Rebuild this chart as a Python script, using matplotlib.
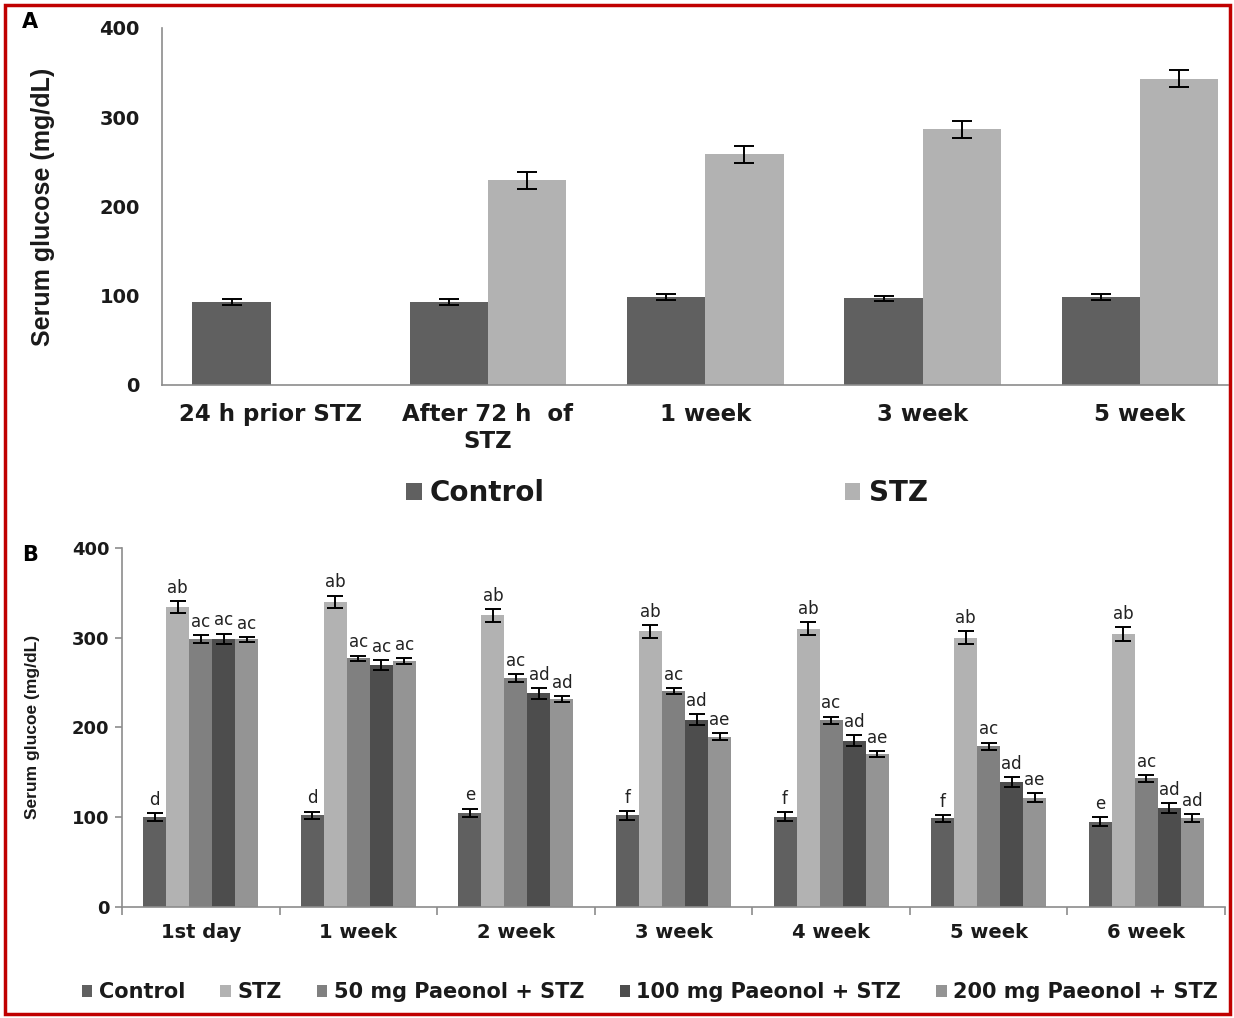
import numpy as np
import matplotlib
matplotlib.use("Agg")
import matplotlib.pyplot as plt
from matplotlib.patches import Rectangle

plt.rcParams['font.family'] = ['DejaVu Sans']

# ---------------- Panel A data ----------------
catsA = ["24 h prior STZ", "After 72 h  of\nSTZ", "1 week", "3 week", "5 week"]
ctrlA = [93, 93, 98.5, 97, 98.5]
ctrlA_err = [3, 3, 3, 2.5, 3]
stzA = [np.nan, 229.5, 258.5, 286.5, 343]
stzA_err = [np.nan, 9.5, 9.5, 9.5, 9.5]
seriesA = ["Control", "STZ"]

# ---------------- Panel B data ----------------
catsB = ["1st day", "1 week", "2 week", "3 week", "4 week", "5 week", "6 week"]
seriesB = ["Control", "STZ", "50 mg Paeonol + STZ", "100 mg Paeonol + STZ", "200 mg Paeonol + STZ"]
ctrlB = [100, 102, 105, 102, 100.5, 98.5, 95]
ctrlB_err = [4, 4, 4.5, 5, 5, 4, 4.5]
stzB = [334, 340, 325, 307, 310, 300, 304]
stzB_err = [7, 7, 7, 7, 7, 7, 8]
p50B = [298.5, 277, 255, 240.5, 208, 179, 143]
p50B_err = [4, 3, 4, 3.5, 4, 4, 4]
p100B = [299, 269.5, 238, 208.5, 185, 139, 110]
p100B_err = [5.5, 5.5, 6, 6, 6, 6, 6]
p200B = [298, 274, 231.5, 189.5, 170, 121.5, 98.5]
p200B_err = [3, 3.5, 3.5, 4, 3.5, 5, 4.5]
lettersCtrl = ["d", "d", "e", "f", "f", "f", "e"]
lettersStz = ["ab", "ab", "ab", "ab", "ab", "ab", "ab"]
letters50 = ["ac", "ac", "ac", "ac", "ac", "ac", "ac"]
letters100 = ["ac", "ac", "ad", "ad", "ad", "ad", "ad"]
letters200 = ["ac", "ac", "ad", "ae", "ae", "ae", "ad"]

colA = ["#606060", "#b2b2b2"]
colB = ["#606060", "#b2b2b2", "#808080", "#4d4d4d", "#949494"]
spine_col = "#8c8c8c"
txt_col = "#1a1a1a"

fig = plt.figure(figsize=(12.34, 10.18), dpi=100)
W, H = 1234, 1018

def ax_rect(l, t, r, b):
    return [l / W, 1 - b / H, (r - l) / W, (b - t) / H]

# ---------------- Panel A ----------------
axA = fig.add_axes(ax_rect(162, 28, 1228, 385))
xA = np.arange(len(catsA))
bwA = 0.36
bA1 = axA.bar(xA - bwA / 2, ctrlA, bwA, color=colA[0], label=seriesA[0], zorder=2)
bA2 = axA.bar(xA + bwA / 2, stzA, bwA, color=colA[1], label=seriesA[1], zorder=2)
axA.errorbar(xA - bwA / 2, ctrlA, yerr=ctrlA_err, fmt='none', ecolor='black',
             elinewidth=1.4, capsize=7, capthick=1.4, zorder=3)
axA.errorbar(xA + bwA / 2, stzA, yerr=stzA_err, fmt='none', ecolor='black',
             elinewidth=1.4, capsize=7, capthick=1.4, zorder=3)
axA.set_xlim(-0.5, 4.405)
axA.set_ylim(0, 400)
axA.set_yticks([0, 100, 200, 300, 400])
axA.tick_params(axis='y', length=0, pad=16, labelsize=14, labelcolor=txt_col)
axA.tick_params(axis='x', length=0, pad=13, labelsize=16.5, labelcolor=txt_col)
axA.set_xticks(xA)
axA.set_xticklabels(catsA, linespacing=1.2)
for lab in axA.get_xticklabels() + axA.get_yticklabels():
    lab.set_fontweight('bold')
for s in ['top', 'right']:
    axA.spines[s].set_visible(False)
for s in ['left', 'bottom']:
    axA.spines[s].set_color(spine_col)
    axA.spines[s].set_linewidth(1.2)
axA.set_ylabel("Serum glucose (mg/dL)", fontsize=18, fontweight='bold',
               family=['Liberation Sans', 'DejaVu Sans'], color=txt_col)
axA.yaxis.set_label_coords(-0.100, 0.5)

legA = fig.legend(handles=[bA1, bA2], labels=seriesA, loc='center',
                  bbox_to_anchor=(667 / W, 1 - 493 / H), ncol=2, frameon=False,
                  prop={'size': 20, 'weight': 'bold'}, handlelength=0.55,
                  handleheight=0.55, handletextpad=0.3, columnspacing=10.8)
for t in legA.get_texts():
    t.set_color(txt_col)

# ---------------- Panel B ----------------
axB = fig.add_axes(ax_rect(122, 548, 1225, 906.7))
xB = np.arange(len(catsB))
bwB = 0.146
valsB = [ctrlB, stzB, p50B, p100B, p200B]
errsB = [ctrlB_err, stzB_err, p50B_err, p100B_err, p200B_err]
letsB = [lettersCtrl, lettersStz, letters50, letters100, letters200]
handlesB = []
for i in range(5):
    xs = xB + (i - 2) * bwB
    b = axB.bar(xs, valsB[i], bwB, color=colB[i], label=seriesB[i], zorder=2)
    handlesB.append(b)
    axB.errorbar(xs, valsB[i], yerr=errsB[i], fmt='none', ecolor='black',
                 elinewidth=1.4, capsize=5.5, capthick=1.4, zorder=3)
    for xx, v, e, t in zip(xs, valsB[i], errsB[i], letsB[i]):
        axB.annotate(t, (xx, v + e), xytext=(0, 3), textcoords='offset points',
                     ha='center', va='bottom', fontsize=12,
                     family='DejaVu Sans', color='#222222', zorder=4)
axB.set_xlim(-0.5, 6.5)
axB.set_ylim(0, 400)
axB.set_yticks([0, 100, 200, 300, 400])
axB.set_xticks(xB)
axB.set_xticklabels(catsB)
axB.set_xticks(np.arange(-0.5, 7, 1), minor=True)
axB.tick_params(axis='x', which='major', length=0, pad=12, labelsize=14, labelcolor=txt_col)
axB.tick_params(axis='x', which='minor', length=6, direction='out', color=spine_col, width=1.2)
axB.tick_params(axis='y', length=5, direction='out', color=spine_col, width=1.2,
                pad=4, labelsize=13, labelcolor=txt_col)
for lab in axB.get_xticklabels() + axB.get_yticklabels():
    lab.set_fontweight('bold')
for s in ['top', 'right']:
    axB.spines[s].set_visible(False)
for s in ['left', 'bottom']:
    axB.spines[s].set_color(spine_col)
    axB.spines[s].set_linewidth(1.2)
axB.set_ylabel("Serum glucoe (mg/dL)", fontsize=12.5, fontweight='bold',
               family=['Liberation Sans', 'DejaVu Sans'], color=txt_col)
axB.yaxis.set_label_coords(-0.074, 0.5)

legB = fig.legend(handles=handlesB, labels=seriesB, loc='center',
                  bbox_to_anchor=(650 / W, 1 - 992 / H), ncol=5, frameon=False,
                  prop={'size': 15, 'weight': 'bold'}, handlelength=0.5,
                  handleheight=0.5, handletextpad=0.3, columnspacing=1.7)
for t in legB.get_texts():
    t.set_color(txt_col)

# panel letters
fig.text(22 / W, 1 - 22 / H, "A", fontsize=15, fontweight='bold', va='center', ha='left')
fig.text(22 / W, 1 - 555 / H, "B", fontsize=15, fontweight='bold', va='center', ha='left')

# red frame
fig.patches.append(Rectangle((5 / W, 4 / H), 1225 / W, 1009 / H, transform=fig.transFigure,
                             fill=False, edgecolor='#c00000', linewidth=2.5))

fig.savefig("out.png", dpi=100)
